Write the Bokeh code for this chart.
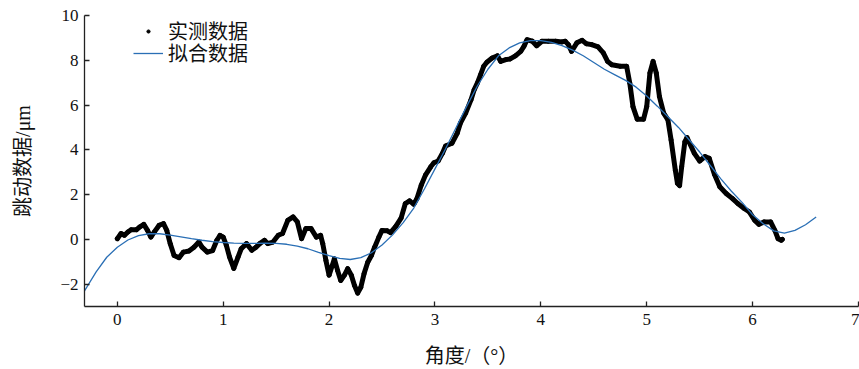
from bokeh.plotting import figure
from bokeh.models import Range1d, FixedTicker, Legend, LegendItem
from bokeh.embed import file_html
from bokeh.resources import INLINE

# measured data (angle in degrees, runout in um)
meas_x = [0.00, 0.035, 0.066, 0.10, 0.13, 0.18, 0.21, 0.25, 0.285, 0.317, 0.35, 0.395, 0.436, 0.467,
          0.50, 0.536, 0.583, 0.624, 0.677, 0.724, 0.77, 0.80, 0.85, 0.90, 0.94, 0.97, 1.00, 1.03,
          1.06, 1.10, 1.14, 1.17, 1.22, 1.27, 1.31, 1.345, 1.39, 1.42, 1.47, 1.52, 1.56, 1.61, 1.66,
          1.70, 1.74, 1.78, 1.83, 1.88, 1.92, 1.94, 1.97, 2.00, 2.03, 2.05, 2.08, 2.11, 2.145, 2.176,
          2.21, 2.24, 2.27, 2.30, 2.33, 2.365, 2.40, 2.43, 2.47, 2.50, 2.55, 2.58, 2.63, 2.68, 2.72,
          2.76, 2.80, 2.83, 2.87, 2.91, 2.96, 2.99, 3.03, 3.07, 3.10, 3.16, 3.21, 3.24, 3.29, 3.34,
          3.37, 3.40, 3.43, 3.46, 3.49, 3.54, 3.59, 3.62, 3.67, 3.71, 3.76, 3.81, 3.84, 3.87, 3.92,
          3.96, 4.01, 4.07, 4.14, 4.20, 4.23, 4.26, 4.29, 4.34, 4.39, 4.43, 4.48, 4.54, 4.59, 4.63,
          4.67, 4.75, 4.81, 4.84, 4.87, 4.91, 4.97, 5.00, 5.03, 5.06, 5.09, 5.12, 5.16, 5.20, 5.23,
          5.27, 5.29, 5.31, 5.33, 5.36, 5.38, 5.45, 5.50, 5.55, 5.59, 5.64, 5.69, 5.75, 5.81, 5.86,
          5.92, 5.97, 6.02, 6.06, 6.11, 6.17, 6.21, 6.24, 6.27, 6.28]
meas_y = [0.03, 0.26, 0.18, 0.33, 0.43, 0.43, 0.55, 0.67, 0.40, 0.10, 0.33, 0.63, 0.70, 0.40,
          -0.20, -0.72, -0.82, -0.57, -0.52, -0.35, -0.12, -0.35, -0.57, -0.50, -0.04, 0.18, 0.10, -0.27,
          -0.79, -1.30, -0.79, -0.42, -0.19, -0.49, -0.35, -0.19, -0.04, -0.19, -0.12, 0.18, 0.26, 0.85, 1.00,
          0.78, 0.03, 0.48, 0.48, 0.10, 0.18, -0.19, -0.94, -1.60, -1.17, -0.87, -1.39, -1.84, -1.60, -1.31,
          -1.60, -2.06, -2.40, -2.14, -1.54, -1.02, -0.72, -0.35, 0.10, 0.40, 0.38, 0.30, 0.58, 0.95, 1.60,
          1.72, 1.57, 1.82, 2.42, 2.87, 3.24, 3.42, 3.50, 3.84, 4.17, 4.29, 4.74, 5.19, 5.64, 6.23,
          6.68, 6.98, 7.35, 7.73, 7.91, 8.10, 8.20, 7.95, 8.03, 8.06, 8.20, 8.40, 8.62, 8.92, 8.85,
          8.65, 8.85, 8.85, 8.85, 8.82, 8.85, 8.70, 8.40, 8.78, 8.89, 8.74, 8.70, 8.60, 8.33, 7.95,
          7.80, 7.73, 7.73, 6.98, 5.93, 5.37, 5.37, 5.93, 7.43, 7.95, 7.43, 6.38, 5.64, 5.34, 4.44,
          3.09, 2.50, 2.40, 3.24, 4.36, 4.55, 3.84, 3.50, 3.70, 3.62, 2.90, 2.35, 2.05, 1.82, 1.60,
          1.38, 1.22, 0.85, 0.67, 0.78, 0.78, 0.40, 0.03, -0.04, 0.00]

# fitted curve
fit_x = [-0.31, -0.2, -0.1, 0.0, 0.1, 0.2, 0.3, 0.4, 0.5, 0.6, 0.7, 0.8, 0.9, 1.0, 1.1, 1.2, 1.3,
         1.4, 1.5, 1.6, 1.7, 1.8, 1.9, 2.0, 2.1, 2.2, 2.3, 2.4, 2.5, 2.6, 2.7, 2.8, 2.9, 3.0, 3.1,
         3.2, 3.3, 3.4, 3.5, 3.6, 3.7, 3.8, 3.9, 4.0, 4.1, 4.2, 4.3, 4.4, 4.5, 4.6, 4.7, 4.8, 4.9,
         5.0, 5.1, 5.2, 5.3, 5.4, 5.5, 5.6, 5.7, 5.8, 5.9, 6.0, 6.1, 6.2, 6.3, 6.4, 6.5, 6.6]
fit_y = [-2.30, -1.45, -0.80, -0.35, -0.03, 0.17, 0.25, 0.25, 0.19, 0.11, 0.03, -0.04, -0.10, -0.14,
         -0.17, -0.18, -0.18, -0.17, -0.18, -0.22, -0.30, -0.42, -0.58, -0.73, -0.85, -0.90, -0.82,
         -0.60, -0.25, 0.20, 0.75, 1.40, 2.25, 3.15, 4.05, 5.00, 5.95, 6.85, 7.60, 8.20, 8.55, 8.78,
         8.88, 8.88, 8.80, 8.65, 8.45, 8.20, 7.90, 7.60, 7.35, 7.10, 6.80, 6.40, 5.95, 5.48, 5.00,
         4.45, 3.90, 3.30, 2.70, 2.15, 1.65, 1.10, 0.70, 0.38, 0.28, 0.40, 0.65, 1.00]

x_ticks = [0, 1, 2, 3, 4, 5, 6, 7]
y_ticks = [-2, 0, 2, 4, 6, 8, 10]
y_tick_labels = {-2: "\u22122", 0: "0", 2: "2", 4: "4", 6: "6", 8: "8", 10: "10"}

x_title = "角度/（°）"
y_title = "跳动数据/μm"
series_names = ["实测数据", "拟合数据"]

NUM_FONT = "Liberation Serif"
CJK_FONT = "Liberation Serif, Noto Sans CJK SC"

p = figure(width=859, height=369, output_backend="svg", toolbar_location=None,
           x_range=Range1d(-0.31, 7.0), y_range=Range1d(-3, 10),
           min_border_left=84, min_border_right=1, min_border_top=15, min_border_bottom=63)
p.outline_line_color = None
p.grid.visible = False
p.background_fill_color = "white"
p.border_fill_color = "white"

meas_line = p.line(meas_x, meas_y, line_color="black", line_width=5,
                   line_join="round", line_cap="round")
meas_pts = p.scatter(meas_x, meas_y, size=4, color="black")
fit_line = p.line(fit_x, fit_y, line_color="#2a6fb5", line_width=1.3)

for ax in (p.xaxis[0], p.yaxis[0]):
    ax.major_tick_in = 5
    ax.major_tick_out = 0
    ax.minor_tick_line_color = None
    ax.axis_line_color = "#222222"
    ax.axis_line_width = 1.3
    ax.major_tick_line_color = "#222222"
    ax.major_tick_line_width = 1.3
    ax.major_label_text_font = NUM_FONT
    ax.major_label_text_font_size = "17px"
    ax.major_label_text_color = "#111111"
    ax.axis_label_text_font = CJK_FONT
    ax.axis_label_text_font_size = "20px"
    ax.axis_label_text_font_style = "normal"
    ax.axis_label_text_color = "#111111"

p.xaxis.ticker = FixedTicker(ticks=x_ticks)
p.yaxis.ticker = FixedTicker(ticks=y_ticks)
p.yaxis.major_label_overrides = y_tick_labels
p.xaxis.axis_label = x_title
p.yaxis.axis_label = y_title
p.xaxis.major_label_standoff = 7
p.xaxis.axis_label_standoff = 17
p.yaxis.major_label_standoff = 6
p.yaxis.axis_label_standoff = 23

legend_style = dict(padding=0, spacing=0, margin=0,
                    glyph_width=30, glyph_height=8, label_height=20, label_standoff=5,
                    border_line_color=None, background_fill_alpha=0,
                    label_text_font=CJK_FONT, label_text_font_size="20px",
                    label_text_color="#111111")
legend1 = Legend(items=[LegendItem(label=series_names[0], renderers=[meas_pts])],
                 location=(49, 261), **legend_style)
legend2 = Legend(items=[LegendItem(label=series_names[1], renderers=[fit_line])],
                 location=(49, 239), **legend_style)
p.add_layout(legend1)
p.add_layout(legend2)

open("out.html", "w").write(file_html(p, INLINE))
